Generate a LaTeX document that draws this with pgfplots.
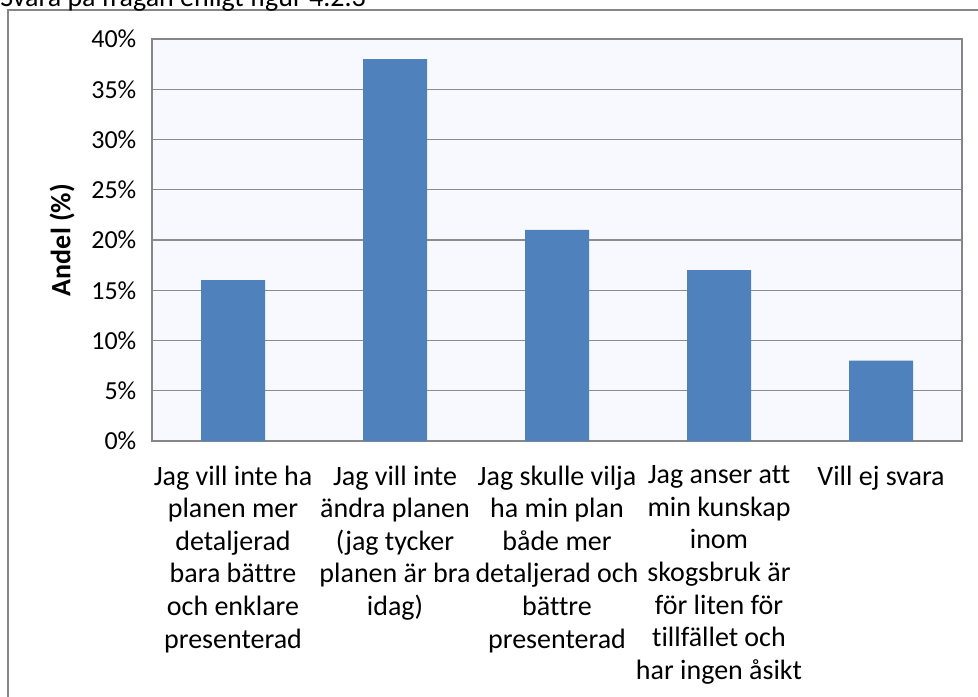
\documentclass[border=0pt]{standalone}
\usepackage{pgfplots}
\pgfplotsset{compat=1.18}
\usepackage{fontspec}
\setmainfont{Carlito}[Ligatures=NoCommon]
\definecolor{barblue}{RGB}{79,129,189}
\definecolor{bgc}{RGB}{248,249,254}
\definecolor{gridc}{RGB}{140,140,140}
\definecolor{framec}{RGB}{134,134,134}
\begin{document}
\begin{tikzpicture}
\fontsize{14pt}{16.3pt}\selectfont
\begin{axis}[
  at={(76pt,127.5pt)}, anchor=south west,
  scale only axis, width=405pt, height=201pt,
  xmin=-0.5, xmax=4.5, ymin=0, ymax=40,
  ytick={0,5,...,40},
  yticklabel={\pgfmathprintnumber{\tick}\%},
  /pgf/number format/assume math mode=true,
  xtick={0,1,2,3,4},
  xticklabels={{Jag vill inte ha\\planen mer\\detaljerad\\bara bättre\\och enklare\\presenterad},
               {Jag vill inte\\ändra planen\\(jag tycker\\planen är bra\\idag)},
               {Jag skulle vilja\\ha min plan\\både mer\\detaljerad och\\bättre\\presenterad},
               {Jag anser att\\min kunskap\\inom\\skogsbruk är\\för liten för\\tillfället och\\har ingen åsikt},
               {Vill ej svara}},
  xticklabel style={align=center, anchor=north, font=\fontsize{14pt}{16.3pt}\selectfont, yshift=-7.5pt},
  yticklabel style={font=\fontsize{13pt}{13pt}\selectfont, xshift=-3pt},
  major tick length=0pt,
  ymajorgrids, grid style={gridc, line width=0.6pt},
  axis line style={framec, line width=1pt},
  axis background/.style={fill=bgc},
  ylabel={\textbf{Andel (\%)}},
  ylabel style={at={(axis description cs:-0.111,0.5)}, anchor=center, font=\fontsize{14pt}{14pt}\selectfont},
  ybar, bar width=32pt,
]
\addplot[fill=barblue, draw=none] coordinates {(0,16) (1,38) (2,21) (3,17) (4,8)};
\end{axis}
\draw[framec, line width=0.8pt] (4pt,-5pt) -- (4pt,343pt) -- (495pt,343pt);
\node[anchor=base west, inner sep=0pt, font=\fontsize{14pt}{14pt}\selectfont] at (0pt,344.5pt) {Svara på frågan enligt figur 4.2.3};
\pgfresetboundingbox
\useasboundingbox (0pt,0pt) rectangle (489pt,348pt);
\end{tikzpicture}
\end{document}
